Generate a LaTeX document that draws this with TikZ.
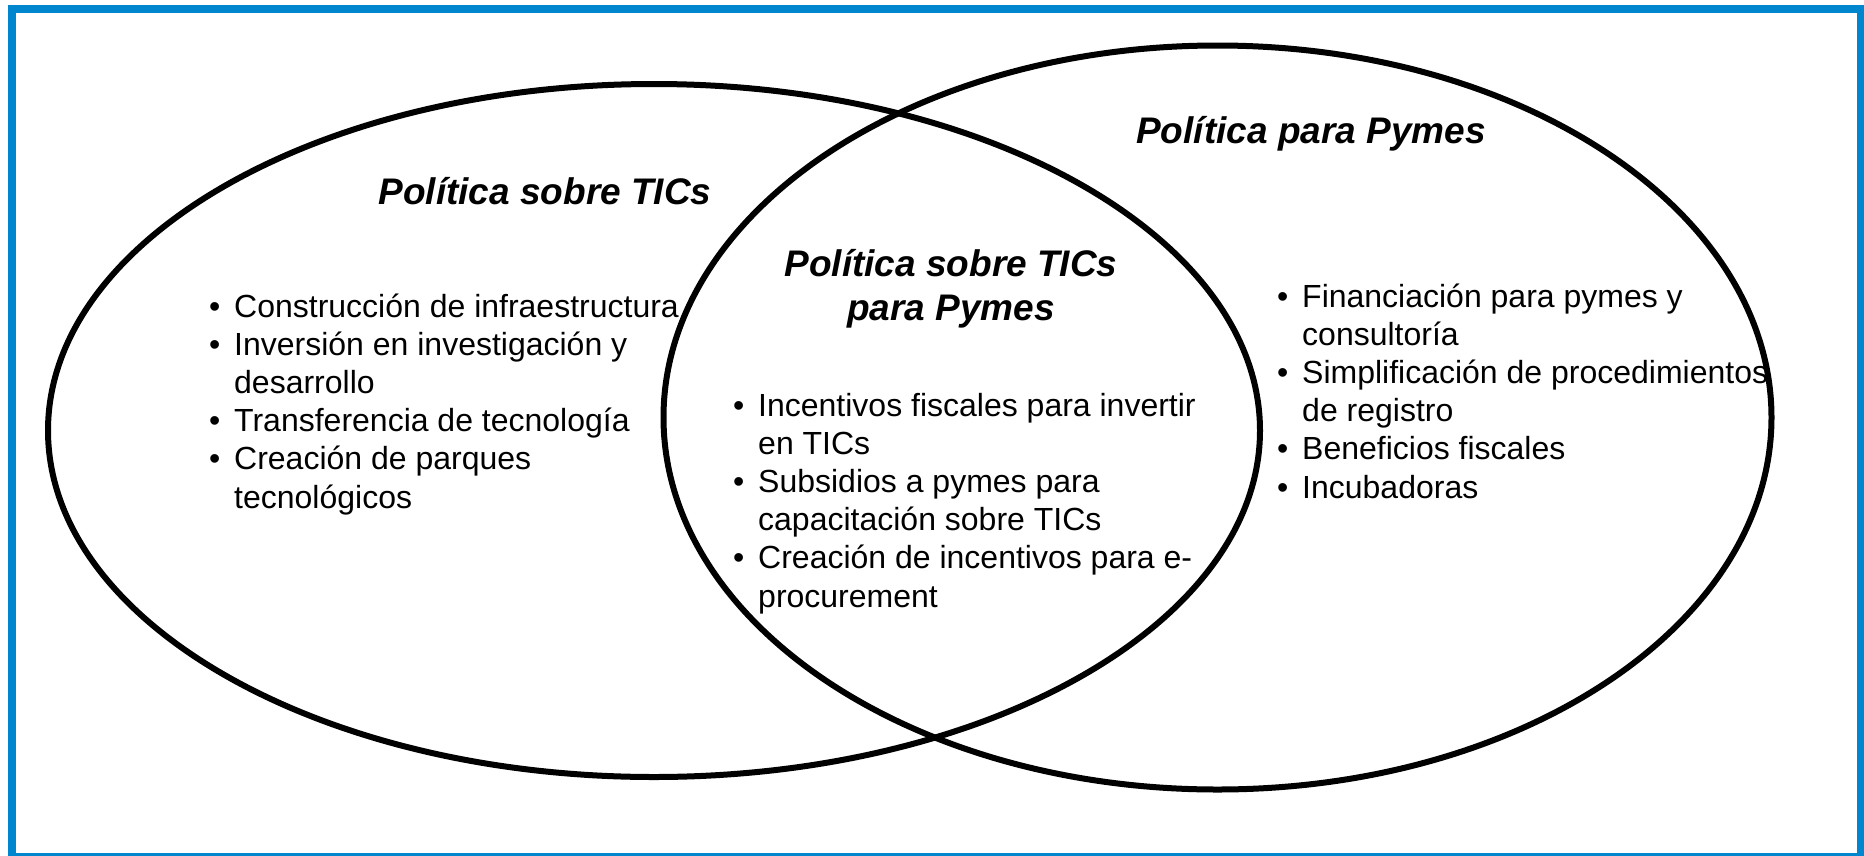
\documentclass[tikz,border=0pt]{standalone}
\usepackage{fontspec}
\usetikzlibrary{shapes.geometric}
\setmainfont{Liberation Sans}
\definecolor{frameblue}{RGB}{0,133,207}
\newcommand{\bul}{\makebox[25pt][l]{\textbullet}}
\newcommand{\cont}{\hspace*{25pt}}
\tikzset{
  venn/.style={draw=black, line width=6pt, ellipse, inner sep=0pt},
  title/.style={anchor=base, inner sep=0pt, font=\fontsize{37}{44}\selectfont\bfseries\itshape},
  items/.style={anchor=base west, inner sep=0pt, font=\fontsize{32}{38.2}\selectfont}
}
\begin{document}
\begin{tikzpicture}[x=1pt, y=-1pt]
\useasboundingbox (0,0) rectangle (1864,855);
\fill[white] (0,0) rectangle (1864,855);
\draw[frameblue, line width=8pt] (12,9) rectangle (1860.5,857);
\node[venn, minimum width=1212pt, minimum height=693pt] (tics) at (654,430.5) {};
\node[venn, minimum width=1108pt, minimum height=744pt] (pymes) at (1217.5,417.5) {};
\node[title] (t1) at (545,204) {Política sobre TICs};
\node[title] (t2) at (1311,143) {Política para Pymes};
\node[title] (t3) at (951,276) {\parbox[t]{420pt}{\centering Política sobre TICs\\para Pymes}};
\node[items] (l1) at (209,317) {\parbox[t]{520pt}{\raggedright
\bul Construcción de infraestructura\\
\bul Inversión en investigación y\\
\cont desarrollo\\
\bul Transferencia de tecnología\\
\bul Creación de parques\\
\cont tecnológicos}};
\node[items] (l2) at (733,416) {\parbox[t]{520pt}{\raggedright
\bul Incentivos fiscales para invertir\\
\cont en TICs\\
\bul Subsidios a pymes para\\
\cont capacitación sobre TICs\\
\bul Creación de incentivos para e-\\
\cont procurement}};
\node[items] (l3) at (1277,307) {\parbox[t]{520pt}{\raggedright
\bul Financiación para pymes y\\
\cont consultoría\\
\bul Simplificación de procedimientos\\
\cont de registro\\
\bul Beneficios fiscales\\
\bul Incubadoras}};
\end{tikzpicture}
\end{document}
